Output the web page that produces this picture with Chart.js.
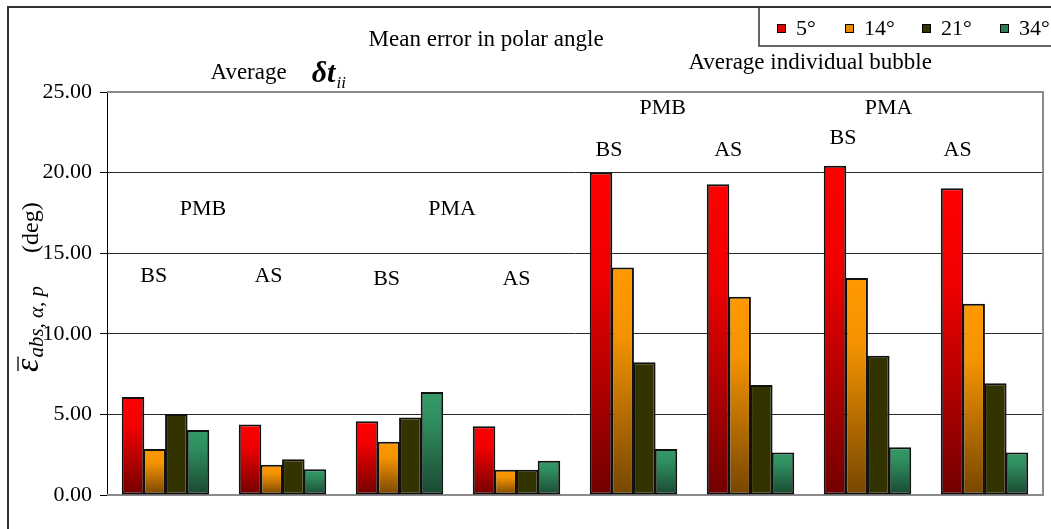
<!DOCTYPE html>
<html>
<head>
<meta charset="utf-8">
<script src="https://cdn.jsdelivr.net/npm/chart.js@4.4.1/dist/chart.umd.min.js"></script>
<style>
    html, body { margin: 0; padding: 0; background: #fff; }
    #wrap { width: 1051px; height: 529px; position: relative; }
</style>
</head>
<body>
<div id="wrap"><canvas id="chart"></canvas></div>
<script>
// groups along the x axis (labels are drawn as annotations above the bars)
const categories = ['PMB BS dt', 'PMB AS dt', 'PMA BS dt', 'PMA AS dt',
                    'PMB BS bubble', 'PMB AS bubble', 'PMA BS bubble', 'PMA AS bubble'];
const angles = ['5°', '14°', '21°', '34°'];

// mean error in polar angle (deg)
const err5  = [6.08, 4.38, 4.57, 4.26, 20.00, 19.27, 20.43, 19.03];
const err14 = [2.85, 1.88, 3.31, 1.57, 14.12, 12.30, 13.46, 11.87];
const err21 = [5.02, 2.21, 4.80, 1.57, 8.23, 6.82, 8.64, 6.93];
const err34 = [4.03, 1.59, 6.39, 2.13, 2.85, 2.63, 2.96, 2.63];

const yTicks = [0, 5, 10, 15, 20, 25];

const SERIF = '"Liberation Serif", "Times New Roman", serif';

// colour ramps (top, middle, bottom) per series
const ramps = [
    ['#ff0000', '#f20000', '#720000'],
    ['#ff9900', '#f59300', '#764600'],
    ['#333300', '#333300', '#333300'],
    ['#349b68', '#2f8c5e', '#1a4830']
];
const legendColors = ['#e00000', '#e88c00', '#333300', '#2a7d55'];

// small labels placed in data coordinates (x = category index, y = value)
const notes = [
    { text: 'PMB', x: 0.32, y: 17.74 },
    { text: 'PMA', x: 2.45, y: 17.74 },
    { text: 'BS',  x: -0.10, y: 13.59 },
    { text: 'AS',  x: 0.88, y: 13.59 },
    { text: 'BS',  x: 1.89, y: 13.40 },
    { text: 'AS',  x: 3.00, y: 13.40 },
    { text: 'PMB', x: 4.25, y: 24.0 },
    { text: 'PMA', x: 6.18, y: 24.0 },
    { text: 'BS',  x: 3.79, y: 21.4 },
    { text: 'AS',  x: 4.81, y: 21.4 },
    { text: 'BS',  x: 5.79, y: 22.15 },
    { text: 'AS',  x: 6.77, y: 21.4 }
];
// headings above the plot
const headings = [
    { text: 'Mean error in polar angle', x: 2.74, y: 28.2 },
    { text: 'Average individual bubble', x: 5.51, y: 26.8 },
    { text: 'Average', x: 0.71, y: 26.2 }
];

function barGradient(ctx, series) {
    const chart = ctx.chart;
    if (!chart.chartArea || ctx.raw === undefined) return ramps[series][0];
    const y = chart.scales.y;
    const top = y.getPixelForValue(ctx.raw);
    const bottom = y.getPixelForValue(0);
    const g = chart.ctx.createLinearGradient(0, top, 0, bottom);
    g.addColorStop(0, ramps[series][0]);
    g.addColorStop(0.3, ramps[series][1]);
    g.addColorStop(1, ramps[series][2]);
    return g;
}

const series = [err5, err14, err21, err34];

const decorations = {
    id: 'decorations',
    beforeDatasetsDraw(chart) {
        const { ctx, chartArea: a } = chart;
        ctx.save();
        // plot frame (grey)
        ctx.strokeStyle = '#8a8a8a';
        ctx.lineWidth = 2;
        ctx.beginPath();
        ctx.moveTo(a.left, a.top);
        ctx.lineTo(a.right, a.top);
        ctx.lineTo(a.right, a.bottom);
        ctx.lineTo(a.left, a.bottom);
        ctx.stroke();
        ctx.restore();
    },
    afterDraw(chart) {
        const { ctx, scales: { x, y } } = chart;
        const px = v => x.getPixelForValue(0) + v * (x.getPixelForValue(1) - x.getPixelForValue(0));
        ctx.save();

        // outer chart border
        ctx.strokeStyle = '#333';
        ctx.lineWidth = 2;
        ctx.beginPath();
        ctx.moveTo(8, chart.height);
        ctx.lineTo(8, 7);
        ctx.lineTo(chart.width, 7);
        ctx.stroke();

        // annotations
        ctx.fillStyle = '#000';
        ctx.textAlign = 'center';
        ctx.textBaseline = 'middle';
        ctx.font = '22px ' + SERIF;
        notes.forEach(n => ctx.fillText(n.text, px(n.x), y.getPixelForValue(n.y)));
        ctx.font = '23px ' + SERIF;
        headings.forEach(n => ctx.fillText(n.text, px(n.x), y.getPixelForValue(n.y)));

        // delta t_ii symbol
        const dx = px(1.25), dy = y.getPixelForValue(26.2);
        ctx.textAlign = 'left';
        ctx.textBaseline = 'alphabetic';
        ctx.font = 'italic bold 30px ' + SERIF;
        ctx.fillText('δt', dx, dy + 9);
        const w = ctx.measureText('δt').width;
        ctx.font = 'italic 17px ' + SERIF;
        ctx.fillText('ii', dx + w + 1, dy + 15);

        // y axis title: eps-bar_{abs,alpha,p} (deg)
        ctx.save();
        ctx.translate(38, 372);
        ctx.rotate(-Math.PI / 2);
        ctx.font = 'italic 34px ' + SERIF;
        ctx.fillText('ε', 0, 0);
        const ew = ctx.measureText('ε').width;
        ctx.lineWidth = 1.3;
        ctx.strokeStyle = '#000';
        ctx.beginPath();
        ctx.moveTo(1, -20);
        ctx.lineTo(ew + 2, -20);
        ctx.stroke();
        ctx.font = 'italic 21px ' + SERIF;
        ctx.fillText('abs, α, p', ew + 1, 5);
        ctx.font = '24px ' + SERIF;
        ctx.fillText('(deg)', 119, 0);
        ctx.restore();

        // legend box
        ctx.strokeStyle = '#333';
        ctx.lineWidth = 1.5;
        ctx.strokeRect(759, 7, chart.width - 759 + 5, 39);
        const lx = [777, 845, 922, 1000];
        ctx.font = '22px ' + SERIF;
        ctx.textBaseline = 'middle';
        angles.forEach((lab, i) => {
            ctx.fillStyle = legendColors[i];
            ctx.fillRect(lx[i], 24, 9, 9);
            ctx.lineWidth = 1;
            ctx.strokeStyle = '#000';
            ctx.strokeRect(lx[i] + 0.5, 24.5, 8, 8);
            ctx.fillStyle = '#000';
            ctx.fillText(lab, lx[i] + 19, 29);
        });
        ctx.restore();
    }
};

new Chart(document.getElementById('chart'), {
    type: 'bar',
    data: {
        labels: categories,
        datasets: series.map((vals, i) => ({
            label: angles[i],
            data: vals,
            backgroundColor: c => barGradient(c, i),
            borderColor: '#111',
            borderWidth: 2,
            borderSkipped: false,
            categoryPercentage: 0.74,
            barPercentage: 1.04
        }))
    },
    options: {
        responsive: true,
        maintainAspectRatio: false,
        animation: false,
        layout: { padding: { left: 0, top: 92, right: 8, bottom: 34 } },
        plugins: {
            legend: { display: false },
            tooltip: { enabled: false },
            title: { display: false }
        },
        scales: {
            x: {
                display: false,
                grid: { display: false }
            },
            y: {
                min: 0,
                max: 25,
                afterBuildTicks: s => { s.ticks = yTicks.map(v => ({ value: v })); },
                afterFit: s => { s.width = 107; },
                border: { display: true, color: '#000', width: 1 },
                grid: {
                    color: c => (c.tick && (c.tick.value === 0 || c.tick.value === 25)) ? 'rgba(0,0,0,0)' : '#2a2a2a',
                    tickColor: '#000',
                    tickLength: 7,
                    lineWidth: 1
                },
                ticks: {
                    padding: 8,
                    color: '#000',
                    font: { family: SERIF, size: 22 },
                    callback: v => Number(v).toFixed(2)
                }
            }
        }
    },
    plugins: [decorations]
});
</script>
</body>
</html>
